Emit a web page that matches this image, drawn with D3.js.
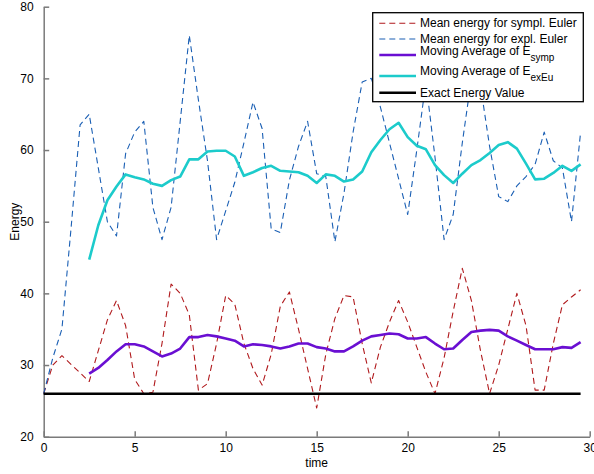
<!DOCTYPE html>
<html>
<head>
<meta charset="utf-8">
<script src="https://cdn.jsdelivr.net/npm/d3@7"></script>
<style>
    body { margin: 0; background: #fff; }
    text { font-family: "Liberation Sans", Arial, Helvetica, sans-serif; fill: #000; }
    .axis path, .axis line { stroke: #7a7a7a; stroke-width: 1.5; }
    .axis text { font-size: 12px; fill: #000; }
</style>
</head>
<body>
<div id="energyChart"></div>
<script>

// time steps (dt = 0.5)
const times = [0, 0.5, 1, 1.5, 2, 2.5, 3, 3.5, 4, 4.5, 5, 5.5, 6, 6.5, 7, 7.5, 8, 8.5, 9, 9.5,
               10, 10.5, 11, 11.5, 12, 12.5, 13, 13.5, 14, 14.5, 15, 15.5, 16, 16.5, 17, 17.5, 18, 18.5, 19, 19.5,
               20, 20.5, 21, 21.5, 22, 22.5, 23, 23.5, 24, 24.5, 25, 25.5, 26, 26.5, 27, 27.5, 28, 28.5, 29, 29.5];

// mean energy, symplectic Euler
const sympEuler = [26, 30, 31.3, 30.1, 28.9, 27.7, 32, 36.3, 39, 35.5, 28, 26, 26.2, 33, 41.3, 40, 37, 26.5, 27.4, 33,
                   39.7, 38.5, 33, 29.5, 27.2, 31.5, 38.2, 40.2, 35, 29.5, 24, 31.5, 36.5, 39.7, 39.5, 33, 27.5, 32.5, 36, 39,
                   36, 32.5, 29, 26, 31, 37.5, 43.5, 39, 32, 26, 30, 35, 40, 35.5, 26.5, 26.5, 33, 38.4, 39.5, 40.5];

// mean energy, explicit Euler
const explEuler = [26, 31, 35, 49, 63.5, 65, 57.5, 50, 48, 59.5, 62.5, 64, 52, 47.5, 52, 64, 76, 67, 58.5, 47.5,
                   51.5, 55.5, 61, 66.7, 63, 49, 48.5, 55.8, 60.5, 64, 56.7, 56.3, 47.2, 54, 62.5, 69.5, 70, 66, 61, 56,
                   51, 60, 69.5, 59, 47.5, 51, 61, 70, 69, 60.5, 53.5, 52.8, 55, 56.3, 58, 62.5, 58.5, 57.5, 50, 62.5];

// moving averages (start at t = 2.5)
const movAvgSymp = [null, null, null, null, null, 28.8, 29.6, 30.7, 31.9, 32.9, 32.9, 32.6, 31.9, 31.2, 31.6, 32.3, 33.9, 33.9, 34.2, 34.0,
                    33.7, 33.4, 32.6, 32.9, 32.8, 32.6, 32.3, 32.6, 33.0, 33.0, 32.5, 32.3, 31.9, 31.9, 32.6, 33.4, 34.0, 34.2, 34.4, 34.3,
                    33.7, 33.7, 33.9, 33.0, 32.2, 32.3, 33.5, 34.6, 34.8, 34.9, 34.8, 34.0, 33.4, 32.8, 32.2, 32.2, 32.2, 32.5, 32.4, 33.2];

const movAvgExEu = [null, null, null, null, null, 44.7, 49.5, 53.0, 54.9, 56.6, 56.2, 55.9, 55.3, 55.0, 55.8, 56.3, 58.7, 58.7, 59.8, 59.9,
                    59.9, 59.1, 56.4, 56.9, 57.5, 57.8, 57.1, 57.0, 56.9, 56.4, 55.4, 56.6, 56.4, 55.6, 55.9, 57.0, 59.7, 61.4, 62.9, 63.8,
                    61.8, 60.6, 60.1, 57.9, 56.5, 55.4, 56.7, 57.9, 58.6, 59.6, 60.7, 61.1, 60.2, 58.1, 55.9, 56.0, 56.8, 57.8, 57.1, 58.0];

// exact energy value
const exactEnergy = 26;

const xTicks = [0, 5, 10, 15, 20, 25, 30];
const yTicks = [20, 30, 40, 50, 60, 70, 80];

class EnergyChart {

    constructor(){
        //svg sizing
        this.svgWidth = 594;
        this.svgHeight = 474;
        this.plot = {left: 43.7, right: 589.7, top: 6.7, bottom: 436.7};

        this.svg = d3.select("#energyChart").append("svg")
            .attr("width", this.svgWidth)
            .attr("height", this.svgHeight);
    };

    update(){
        // scales
        this.Xscale = d3.scaleLinear()
                        .domain([0, 30])
                        .range([this.plot.left, this.plot.right]);
        this.Yscale = d3.scaleLinear()
                        .domain([20, 80])
                        .range([this.plot.bottom, this.plot.top]);

        // axes, ticks pointing inward
        this.Xaxis = d3.axisBottom(this.Xscale)
            .tickValues(xTicks)
            .tickSizeInner(-5.5)
            .tickSizeOuter(0)
            .tickPadding(7);
        this.Yaxis = d3.axisLeft(this.Yscale)
            .tickValues(yTicks)
            .tickSizeInner(-5.5)
            .tickSizeOuter(0)
            .tickPadding(10);

        this.svg.append("g")
                .classed("axis", true)
                .attr("transform", "translate(0," + this.plot.bottom + ")")
                .call(this.Xaxis);
        this.svg.append("g")
                .classed("axis", true)
                .attr("transform", "translate(" + this.plot.left + ",0)")
                .call(this.Yaxis);

        // axis labels
        this.svg.append("text")
                .text("time")
                .attr("x", this.Xscale(15))
                .attr("y", 466.5)
                .attr("text-anchor", "middle")
                .style("font-size", "12px");
        this.svg.append("text")
                .text("Energy")
                .attr("transform", "translate(19.3," + (this.plot.top + this.plot.bottom) / 2 + ") rotate(-90)")
                .attr("text-anchor", "middle")
                .style("font-size", "12px");

        // series
        let series = [
            {vals: sympEuler, color: "#b0191c", width: 1.1, dash: "6,4"},
            {vals: explEuler, color: "#1a5fb4", width: 1.1, dash: "6,4"},
            {vals: movAvgSymp, color: "#6a0fd2", width: 2.6, dash: null},
            {vals: movAvgExEu, color: "#1ccbcb", width: 2.6, dash: null},
            {vals: times.map(() => exactEnergy), color: "#000", width: 2.6, dash: null}
        ];

        this.line = d3.line()
                      .defined(d => d[1] !== null)
                      .x(d => this.Xscale(d[0]))
                      .y(d => this.Yscale(d[1]));

        this.svg.append("g")
                .classed("lines", true)
                .selectAll("path")
                .data(series)
                .enter()
                .append("path")
                .attr("d", s => this.line(times.map((t, i) => [t, s.vals[i]])))
                .attr("fill", "none")
                .attr("stroke", s => s.color)
                .attr("stroke-width", s => s.width)
                .attr("stroke-dasharray", s => s.dash)
                .attr("stroke-linejoin", "round");

        // legend
        let legendItems = [
            {label: "Mean energy for sympl. Euler", sub: null, lineY: 23.3, textY: 27, s: series[0]},
            {label: "Mean energy for expl. Euler", sub: null, lineY: 39, textY: 43, s: series[1]},
            {label: "Moving Average of E", sub: "symp", lineY: 55, textY: 55, s: series[2]},
            {label: "Moving Average of E", sub: "exEu", lineY: 76, textY: 75, s: series[3]},
            {label: "Exact Energy Value", sub: null, lineY: 92.7, textY: 97, s: series[4]}
        ];

        let legend = this.svg.append("g").classed("legend", true);
        legend.append("rect")
              .attr("x", 372.7)
              .attr("y", 12.7)
              .attr("width", 210.6)
              .attr("height", 89)
              .attr("fill", "#fff")
              .attr("stroke", "#000")
              .attr("stroke-width", 1.3);

        let rows = legend.selectAll("g.row")
              .data(legendItems)
              .enter()
              .append("g")
              .classed("row", true);

        rows.append("line")
            .attr("x1", 379.3)
            .attr("x2", 416)
            .attr("y1", d => d.lineY)
            .attr("y2", d => d.lineY)
            .attr("stroke", d => d.s.color)
            .attr("stroke-width", d => d.s.width)
            .attr("stroke-dasharray", d => d.s.dash);

        let labels = rows.append("text")
            .attr("x", 420)
            .attr("y", d => d.textY)
            .style("font-size", "12px");
        labels.append("tspan").text(d => d.label);
        labels.filter(d => d.sub)
              .append("tspan")
              .attr("dy", 6)
              .style("font-size", "10px")
              .text(d => d.sub);
    }
};

let chart = new EnergyChart();
chart.update();
</script>
</body>
</html>
